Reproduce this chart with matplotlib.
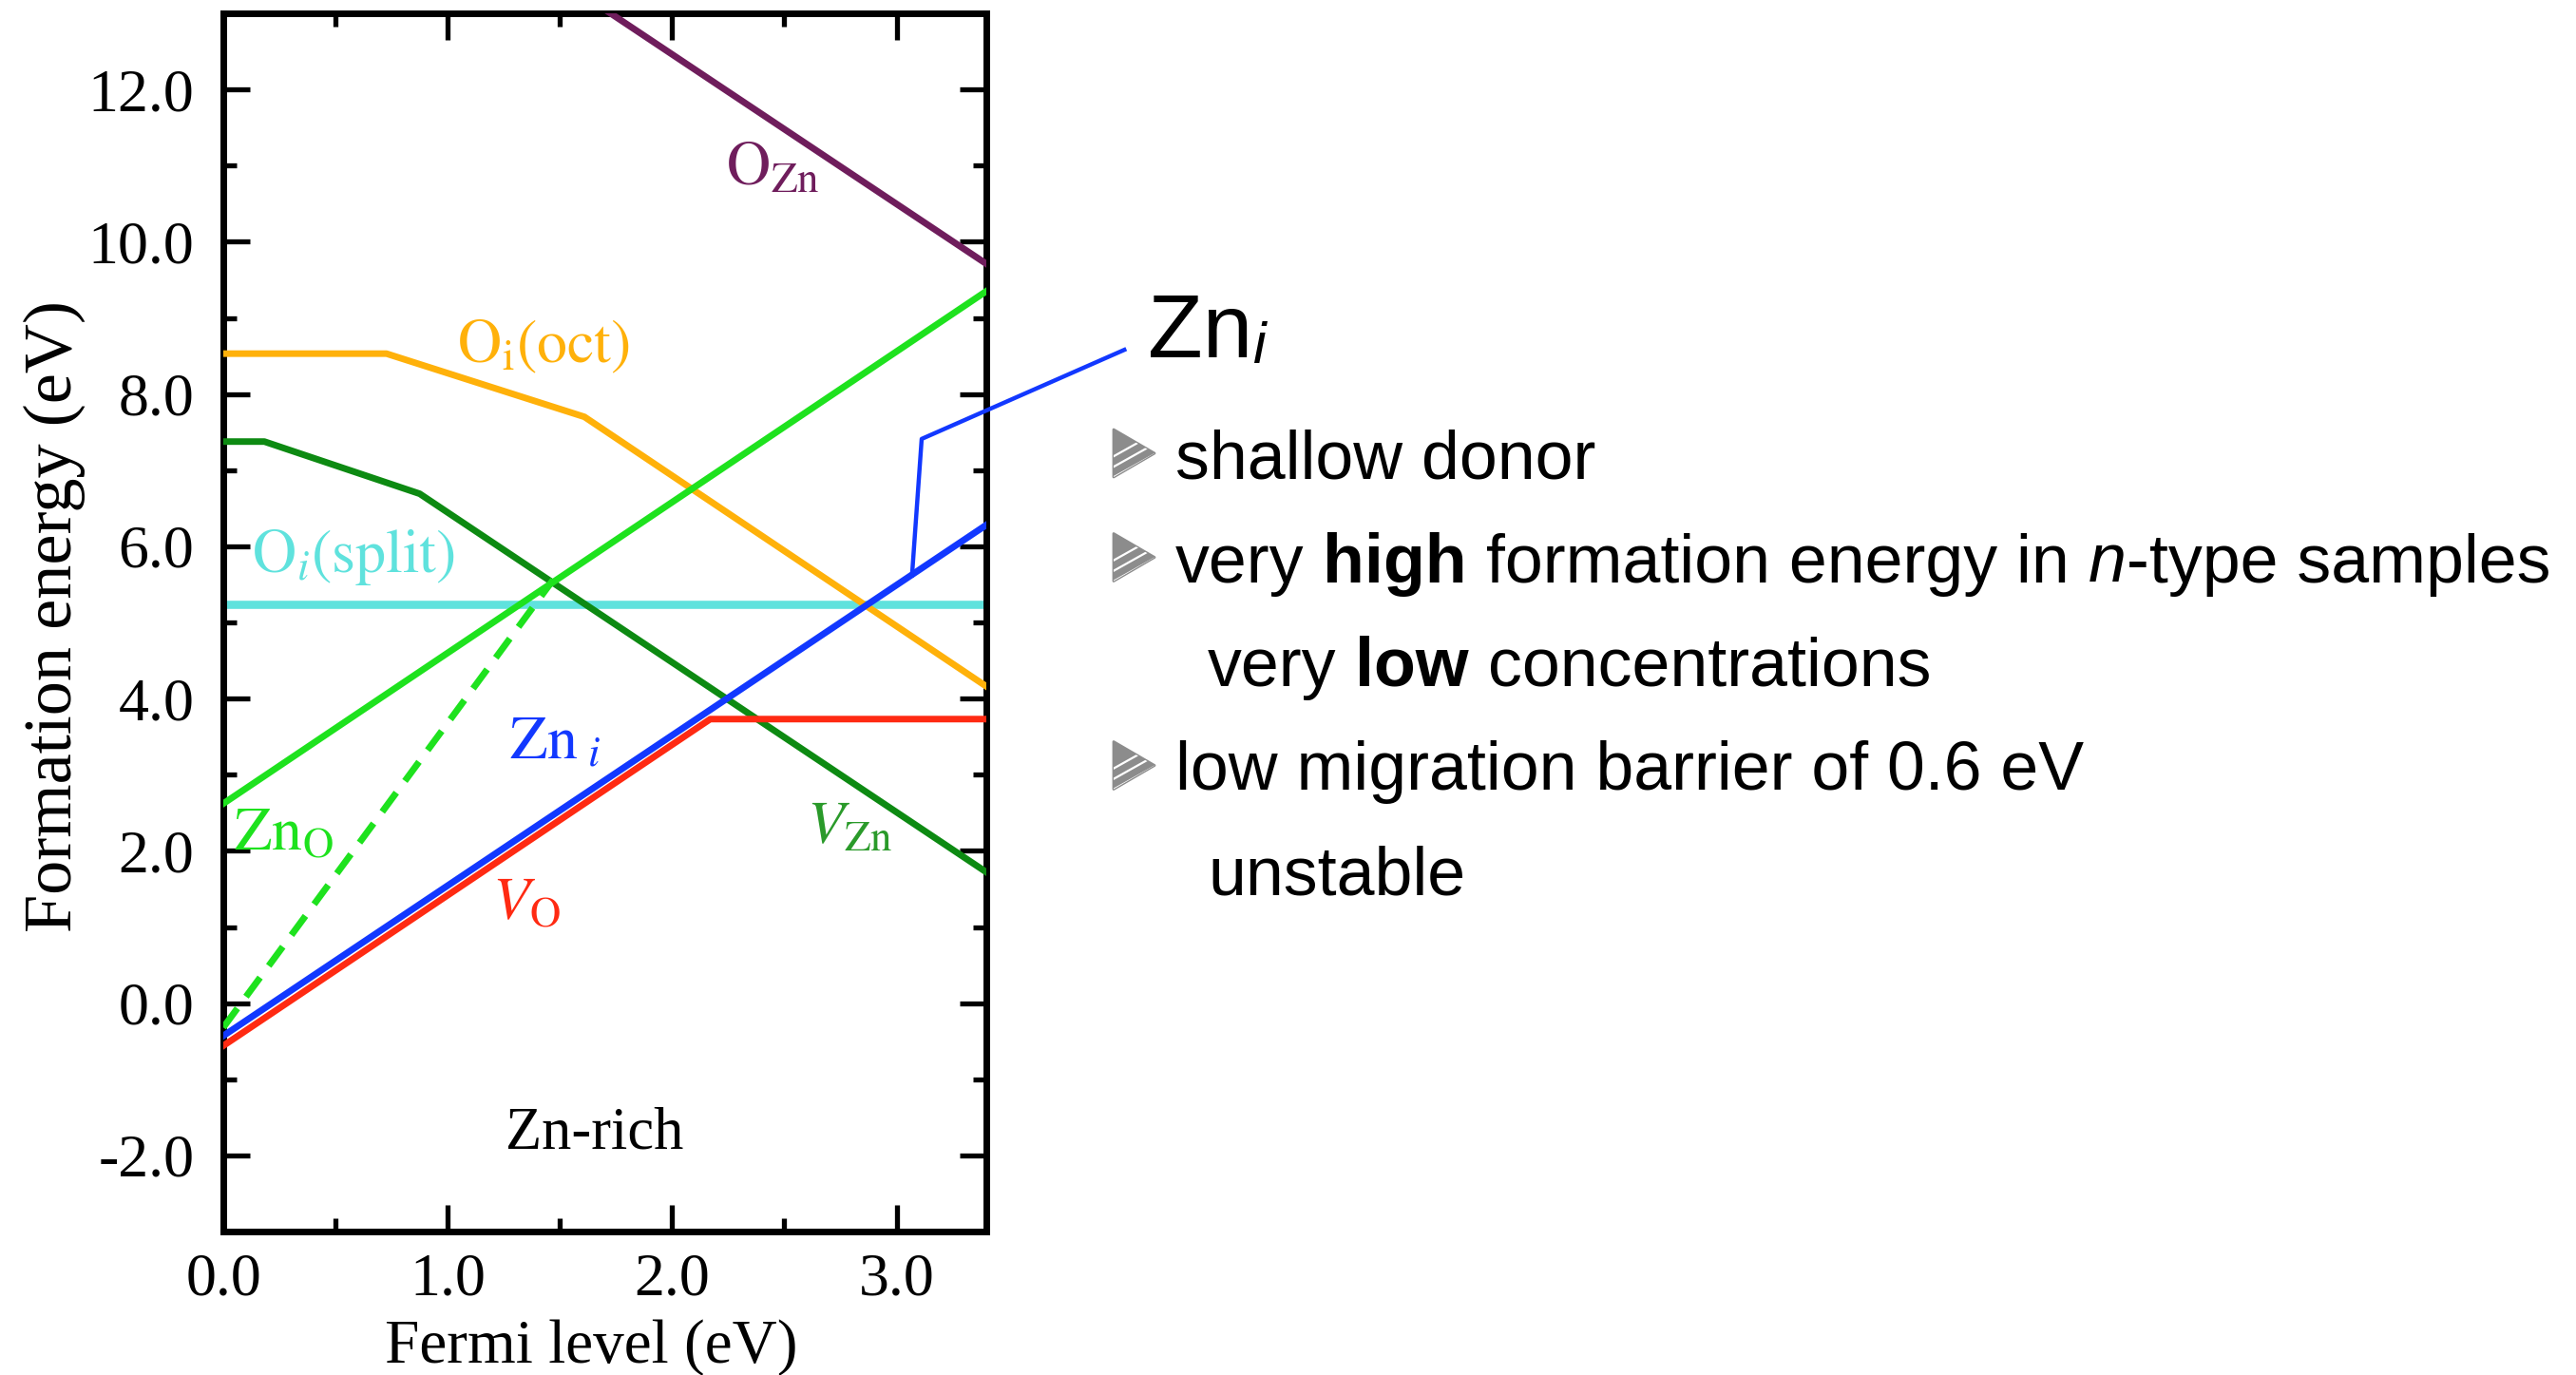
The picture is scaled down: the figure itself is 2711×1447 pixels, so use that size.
import matplotlib.pyplot as plt
from matplotlib.patches import Polygon
from matplotlib.ticker import MultipleLocator, FormatStrFormatter

plt.rcParams['font.family'] = ['Liberation Serif', 'DejaVu Serif']
plt.rcParams['axes.unicode_minus'] = False

# formation energy vs Fermi level, Zn-rich limit (eV)
fermi_vo = [0.0, 2.17, 3.4]
energy_vo = [-0.56, 3.73, 3.73]
fermi_zni = [0.0, 3.4]
energy_zni = [-0.43, 6.28]
fermi_zno = [0.0, 3.4]
energy_zno = [2.62, 9.35]
fermi_zno_4plus = [0.0, 1.47]
energy_zno_4plus = [-0.32, 5.56]
fermi_vzn = [0.0, 0.183, 0.875, 3.4]
energy_vzn = [7.375, 7.375, 6.69, 1.72]
fermi_oi_oct = [0.0, 0.727, 1.609, 3.4]
energy_oi_oct = [8.53, 8.53, 7.70, 4.16]
fermi_oi_split = [0.0, 3.4]
energy_oi_split = [5.24, 5.24]
fermi_ozn = [1.70, 3.4]
energy_ozn = [13.05, 9.71]

# pointer from the Zn_i line to the heading on the right
callout_x = [3.069, 3.112, 4.015]
callout_y = [5.62, 7.41, 8.58]

x_ticks = [0.0, 1.0, 2.0, 3.0]
y_ticks = [-2.0, 0.0, 2.0, 4.0, 6.0, 8.0, 10.0, 12.0]

heading = ('Zn', 'i')
bullets = [
    (True, [('shallow donor', 'normal', 'normal')]),
    (True, [('very ', 'normal', 'normal'), ('high', 'bold', 'normal'),
            (' formation energy in ', 'normal', 'normal'), ('n', 'normal', 'italic'),
            ('-type samples', 'normal', 'normal')]),
    (False, [('very ', 'normal', 'normal'), ('low', 'bold', 'normal'),
             (' concentrations', 'normal', 'normal')]),
    (True, [('low migration barrier of 0.6 eV', 'normal', 'normal')]),
    (False, [('unstable', 'normal', 'normal')]),
]

W, H = 2711, 1447
fig = plt.figure(figsize=(W / 100, H / 100), dpi=100)
ax = fig.add_axes([235 / W, 1 - 1296 / H, (1038 - 235) / W, (1296 - 14) / H])

c_purple = '#6f1d5c'
c_orange = '#ffb10a'
c_cyan = '#5fe2dd'
c_dkgreen = '#0d8a12'
c_green = '#1ee21e'
c_red = '#ff2a12'
c_blue = '#1238ff'
lw = 5.0

ax.plot(fermi_oi_split, energy_oi_split, color=c_cyan, lw=6.2, zorder=2)
ax.plot(fermi_oi_oct, energy_oi_oct, color=c_orange, lw=lw, zorder=3)
ax.plot(fermi_ozn, energy_ozn, color=c_purple, lw=lw, zorder=3)
ax.plot(fermi_vzn, energy_vzn, color=c_dkgreen, lw=lw, zorder=3)
ax.plot(fermi_zno, energy_zno, color=c_green, lw=lw, zorder=4)
ax.plot(fermi_zno_4plus, energy_zno_4plus, color=c_green, lw=lw, ls=(0, (3.6, 2.2)), zorder=4)
ax.plot(fermi_vo, energy_vo, color=c_red, lw=lw, zorder=5)
ax.plot(fermi_zni, energy_zni, color=c_blue, lw=lw, zorder=6)
ax.plot(callout_x, callout_y, color=c_blue, lw=3.2, clip_on=False, zorder=7)

ax.set_xlim(0, 3.4)
ax.set_ylim(-3, 13)
ax.set_xticks(x_ticks)
ax.set_yticks(y_ticks)
ax.xaxis.set_minor_locator(MultipleLocator(0.5))
ax.yaxis.set_minor_locator(MultipleLocator(1.0))
ax.xaxis.set_major_formatter(FormatStrFormatter('%.1f'))
ax.yaxis.set_major_formatter(FormatStrFormatter('%.1f'))
ax.tick_params(which='both', direction='in', top=True, right=True,
               labelsize=46, width=3.8, pad=16)
ax.tick_params(which='major', length=20)
ax.tick_params(which='minor', length=10)
ax.tick_params(axis='y', pad=22)
for s in ax.spines.values():
    s.set_linewidth(5)

ax.set_xlabel('Fermi level (eV)', fontsize=47)
ax.set_ylabel('Formation energy (eV)', fontsize=52)
ax.xaxis.set_label_coords(0.482, -0.072)
ax.yaxis.set_label_coords(-0.18, 0.505)

lab = dict(fontsize=46, math_fontfamily='stix', ha='left', va='baseline')
ax.text(2.24, 10.75, r'$\mathrm{O}_{\mathrm{Zn}}$', color=c_purple, **lab)
ax.text(1.04, 8.42, r'$\mathrm{O}_{\mathrm{i}}\mathrm{(oct)}$', color=c_orange, **lab)
ax.text(0.127, 5.66, r'$\mathrm{O}_{i}\mathrm{(split)}$', color=c_cyan, **lab)
ax.text(1.274, 3.21, r'$\mathrm{Zn}_{\ i}$', color=c_blue, **lab)
ax.text(0.045, 2.02, r'$\mathrm{Zn}_{\mathrm{O}}$', color=c_green, **lab)
ax.text(1.20, 1.10, r'$V_{\mathrm{O}}$', color=c_red, **lab)
ax.text(2.60, 2.10, r'$V_{\mathrm{Zn}}$', color='#2a9a2a', **lab)
ax.text(1.655, -1.91, 'Zn-rich', fontsize=45, ha='center', va='baseline')

# right-hand notes, laid out in pixel coordinates
over = fig.add_axes([0, 0, 1, 1])
over.set_xlim(0, W)
over.set_ylim(H, 0)
over.axis('off')

sans = ['Liberation Sans', 'DejaVu Sans']
over.text(1208, 376, heading[0], fontsize=68, family=sans, ha='left', va='baseline')
over.text(1318, 382, heading[1], fontsize=44, family=sans, style='italic',
          ha='left', va='baseline')

renderer = fig.canvas.get_renderer()
fs = 51.7
space = fs * 100 / 72 * 0.278
baseline0, step = 503, 109.5


def bullet(x0, base):
    tri = Polygon([[x0, base - 1], [x0, base - 51], [x0 + 43, base - 26]], closed=True,
                  facecolor='#8c8c8c', edgecolor='#8c8c8c', lw=2, joinstyle='round')
    over.add_patch(tri)
    for k in range(3):
        off = 12 + k * 11
        ln, = over.plot([x0 - 5, x0 + 45], [base - off + 14, base - off - 14],
                        color='white', lw=1.6)
        ln.set_clip_path(tri)


for i, (has_bullet, segs) in enumerate(bullets):
    base = baseline0 + i * step
    if has_bullet:
        bullet(1172, base)
        x = 1237
    else:
        x = 1271
    for txt, weight, style in segs:
        if txt.startswith(' '):
            x += space
        t = over.text(x, base, txt.strip(), fontsize=fs, family=sans, weight=weight,
                      style=style, ha='left', va='baseline')
        x += t.get_window_extent(renderer).width
        if txt.endswith(' '):
            x += space

fig.savefig('out.png', dpi=100)
